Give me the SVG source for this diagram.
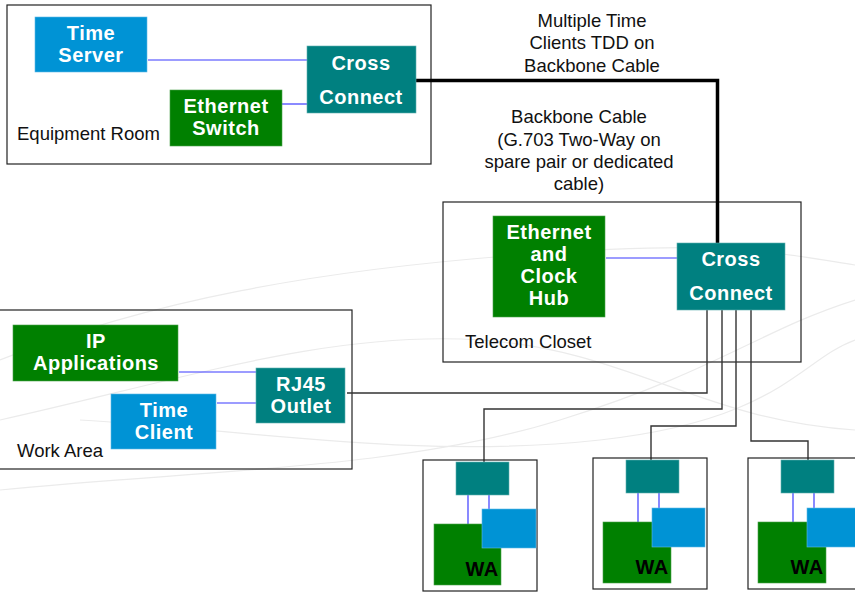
<svg xmlns="http://www.w3.org/2000/svg" width="855" height="592" viewBox="0 0 855 592">
  <style>
    .room { fill: none; stroke: #222; stroke-width: 1.2; }
    .teal { fill: #008080; stroke: #5fb0b0; stroke-width: 0.6; }
    .green { fill: #008000; stroke: #4aa04a; stroke-width: 0.6; }
    .blue { fill: #0093d5; stroke: #5fb8e6; stroke-width: 0.6; }
    .lbl { font-family: "Liberation Sans", Arial, sans-serif; font-size: 20px; font-weight: bold; fill: #ffffff; text-anchor: middle; letter-spacing: 0.5px; }
    .wa { font-family: "Liberation Sans", Arial, sans-serif; font-size: 20px; font-weight: bold; fill: #000000; text-anchor: middle; letter-spacing: 0.5px; }
    .txt { font-family: "Liberation Sans", Arial, sans-serif; font-size: 18.5px; fill: #111111; }
    .note { font-family: "Liberation Sans", Arial, sans-serif; font-size: 18.5px; fill: #111111; text-anchor: middle; }
    .link { fill: none; stroke: #3b3bff; stroke-width: 1.2; }
    .cable { fill: none; stroke: #333333; stroke-width: 1.4; }
    .backbone { fill: none; stroke: #000000; stroke-width: 3.5; }
    .wave { fill: none; stroke: #ebebeb; stroke-width: 1.2; }
  </style>

  <rect width="855" height="592" fill="#ffffff"/>

  <!-- faint background swirls -->
  <g id="background">
    <path class="wave" d="M0 360 C 150 300, 320 270, 520 255 S 760 250, 855 265"/>
    <path class="wave" d="M0 420 C 180 380, 330 330, 480 340 S 700 420, 855 430"/>
    <path class="wave" d="M0 490 C 200 470, 400 470, 560 420 S 760 330, 855 300"/>
    <path class="wave" d="M80 420 C 250 430, 420 460, 600 440 S 800 360, 855 340"/>
  </g>

  <!-- room outlines -->
  <g id="equipment-room">
    <rect class="room" x="7" y="5" width="424" height="159"/>
    <text class="txt" x="17" y="140">Equipment Room</text>
  </g>
  <g id="telecom-closet">
    <rect class="room" x="443" y="202" width="358" height="160"/>
    <text class="txt" x="465" y="348">Telecom Closet</text>
  </g>
  <g id="work-area">
    <rect class="room" x="-1" y="310" width="353" height="159"/>
    <text class="txt" x="17" y="457">Work Area</text>
  </g>

  <!-- connectors -->
  <g id="connectors">
    <line class="link" x1="148" y1="60" x2="307" y2="60"/>
    <line class="link" x1="282" y1="104" x2="307" y2="104"/>
    <line class="link" x1="606" y1="258" x2="677" y2="258"/>
    <line class="link" x1="179" y1="372" x2="256" y2="372"/>
    <line class="link" x1="217" y1="403" x2="256" y2="403"/>
    <polyline class="backbone" points="416,80.5 717.5,80.5 717.5,243"/>
    <polyline class="cable" points="707,310 707,393 347,393"/>
    <polyline class="cable" points="722,310 722,409 484,409 484,462"/>
    <polyline class="cable" points="736,310 736,426 651,426 651,460"/>
    <polyline class="cable" points="751,310 751,441 808,441 808,460"/>
    <!-- work area drops -->
    <line class="link" x1="468" y1="495" x2="468" y2="524"/>
    <line class="link" x1="489" y1="495" x2="489" y2="509"/>
    <line class="link" x1="638" y1="493" x2="638" y2="522"/>
    <line class="link" x1="659" y1="493" x2="659" y2="508"/>
    <line class="link" x1="793" y1="493" x2="793" y2="522"/>
    <line class="link" x1="814" y1="493" x2="814" y2="508"/>
  </g>

  <!-- backbone notes -->
  <g id="backbone-notes">
    <text class="note" x="592" y="27">Multiple Time</text>
    <text class="note" x="592" y="49">Clients TDD on</text>
    <text class="note" x="592" y="72">Backbone Cable</text>
    <text class="note" x="579" y="123">Backbone Cable</text>
    <text class="note" x="579" y="146">(G.703 Two-Way on</text>
    <text class="note" x="579" y="168">spare pair or dedicated</text>
    <text class="note" x="579" y="190">cable)</text>
  </g>

  <!-- equipment room nodes -->
  <g id="time-server">
    <rect class="blue" x="35" y="17" width="112" height="55"/>
    <text class="lbl" x="91" y="40">Time</text>
    <text class="lbl" x="91" y="62">Server</text>
  </g>
  <g id="er-cross-connect">
    <rect class="teal" x="307" y="46" width="109" height="67"/>
    <text class="lbl" x="361" y="70">Cross</text>
    <text class="lbl" x="361" y="104">Connect</text>
  </g>
  <g id="ethernet-switch">
    <rect class="green" x="170" y="90" width="112" height="56"/>
    <text class="lbl" x="226" y="113">Ethernet</text>
    <text class="lbl" x="226" y="135">Switch</text>
  </g>

  <!-- telecom closet nodes -->
  <g id="ethernet-clock-hub">
    <rect class="green" x="493" y="216" width="112" height="101"/>
    <text class="lbl" x="549" y="239">Ethernet</text>
    <text class="lbl" x="549" y="261">and</text>
    <text class="lbl" x="549" y="283">Clock</text>
    <text class="lbl" x="549" y="305">Hub</text>
  </g>
  <g id="tc-cross-connect">
    <rect class="teal" x="677" y="243" width="108" height="67"/>
    <text class="lbl" x="731" y="266">Cross</text>
    <text class="lbl" x="731" y="300">Connect</text>
  </g>

  <!-- work area nodes -->
  <g id="ip-applications">
    <rect class="green" x="13" y="325" width="165" height="56"/>
    <text class="lbl" x="96" y="348">IP</text>
    <text class="lbl" x="96" y="370">Applications</text>
  </g>
  <g id="time-client">
    <rect class="blue" x="111" y="394" width="105" height="55"/>
    <text class="lbl" x="164" y="417">Time</text>
    <text class="lbl" x="164" y="439">Client</text>
  </g>
  <g id="rj45-outlet">
    <rect class="teal" x="256" y="368" width="89" height="55"/>
    <text class="lbl" x="301" y="391">RJ45</text>
    <text class="lbl" x="301" y="413">Outlet</text>
  </g>

  <!-- remote work areas -->
  <g id="wa-1">
    <rect class="room" x="423" y="460" width="114" height="131"/>
    <rect class="teal" x="456" y="462" width="53" height="33"/>
    <rect class="green" x="434" y="524" width="67" height="61"/>
    <rect class="blue" x="482" y="509" width="54" height="39"/>
    <text class="wa" x="482" y="576">WA</text>
  </g>
  <g id="wa-2">
    <rect class="room" x="593" y="458" width="114" height="131"/>
    <rect class="teal" x="626" y="460" width="53" height="33"/>
    <rect class="green" x="603" y="522" width="68" height="61"/>
    <rect class="blue" x="652" y="508" width="53" height="39"/>
    <text class="wa" x="652" y="574">WA</text>
  </g>
  <g id="wa-3">
    <rect class="room" x="748" y="458" width="114" height="131"/>
    <rect class="teal" x="781" y="460" width="53" height="33"/>
    <rect class="green" x="758" y="522" width="68" height="61"/>
    <rect class="blue" x="807" y="508" width="53" height="39"/>
    <text class="wa" x="807" y="574">WA</text>
  </g>
</svg>
